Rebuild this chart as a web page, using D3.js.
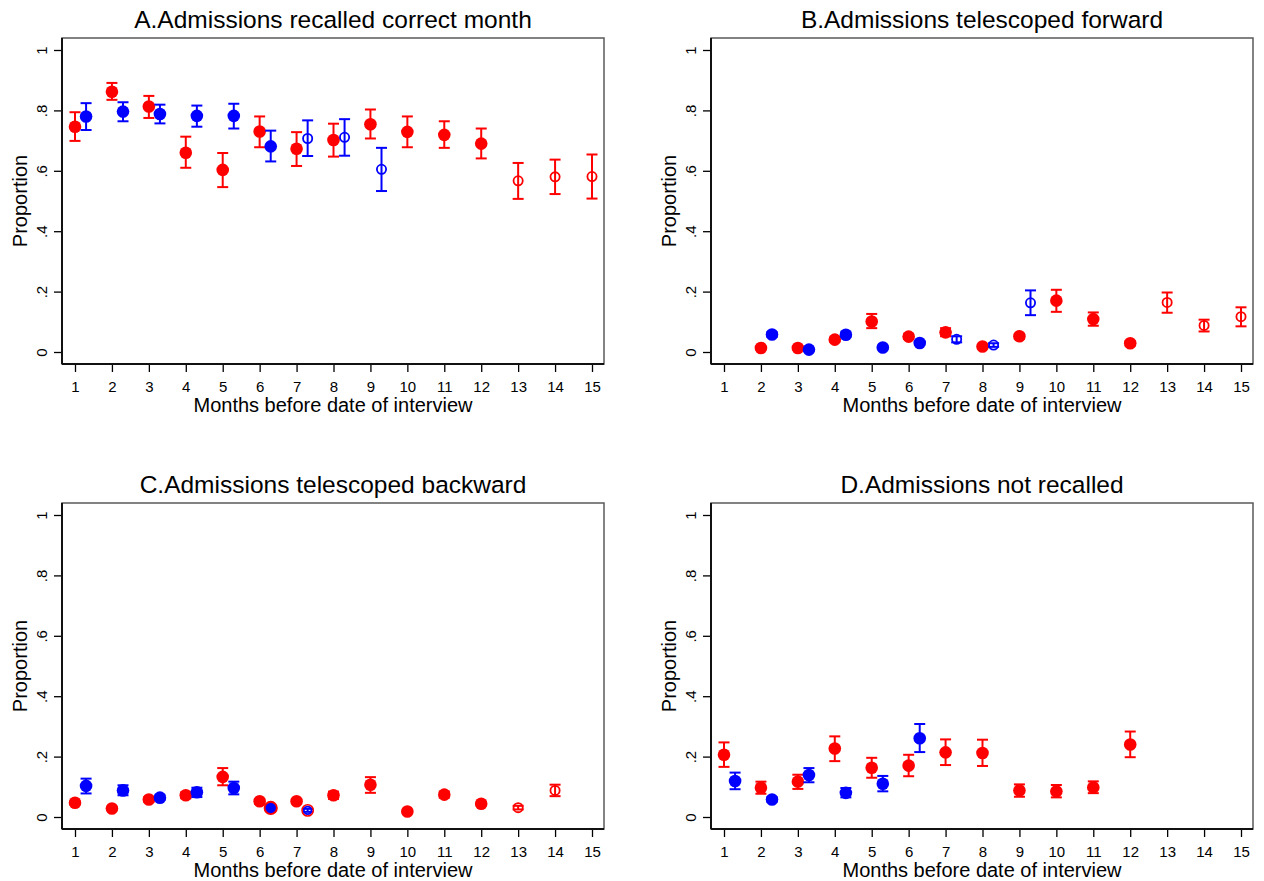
<!DOCTYPE html>
<html><head><meta charset="utf-8">
<script src="https://cdn.jsdelivr.net/npm/d3@7"></script>
<style>
body{margin:0;background:#fff}
svg{display:block}
text{font-family:"Liberation Sans",Arial,Helvetica,sans-serif;fill:#000}
</style>
</head><body>
<svg id="chart" width="1264" height="881"></svg>
<script>
// ---------- data ----------
const monthTicks = [1,2,3,4,5,6,7,8,9,10,11,12,13,14,15];
const yTickValues = [0,0.2,0.4,0.6,0.8,1];
const yTickLabels = ["0",".2",".4",".6",".8","1"];
const panelTitles = ["A.Admissions recalled correct month","B.Admissions telescoped forward","C.Admissions telescoped backward","D.Admissions not recalled"];
const xAxisTitle = "Months before date of interview";
const yAxisTitle = "Proportion";

// Panel A
const aRedX   = [1,2,3,4,5,6,7,8,9,10,11,12,13,14,15];
const aRedEst = [0.746,0.862,0.813,0.660,0.603,0.730,0.673,0.702,0.754,0.729,0.719,0.690,0.567,0.580,0.581];
const aRedLo  = [0.699,0.835,0.775,0.610,0.546,0.678,0.616,0.647,0.707,0.678,0.676,0.641,0.507,0.523,0.508];
const aRedHi  = [0.794,0.891,0.848,0.713,0.659,0.780,0.728,0.756,0.803,0.780,0.764,0.740,0.626,0.637,0.654];
const aRedOpen= [0,0,0,0,0,0,0,0,0,0,0,0,1,1,1];
const aBlueX   = [1.3,2.3,3.3,4.3,5.3,6.3,7.3,8.3,9.3];
const aBlueEst = [0.780,0.796,0.788,0.782,0.782,0.681,0.707,0.711,0.605];
const aBlueLo  = [0.735,0.764,0.757,0.746,0.740,0.631,0.649,0.650,0.533];
const aBlueHi  = [0.824,0.827,0.819,0.816,0.822,0.733,0.767,0.771,0.676];
const aBlueOpen= [0,0,0,0,0,0,1,1,1];

// Panel B
const bRedX   = [2,3,4,5,6,7,8,9,10,11,12,13,14,15];
const bRedEst = [0.013,0.013,0.041,0.101,0.051,0.065,0.018,0.052,0.170,0.109,0.029,0.164,0.088,0.117];
const bRedLo  = [0.008,0.008,0.034,0.079,0.043,0.052,0.013,0.044,0.133,0.087,0.022,0.130,0.068,0.085];
const bRedHi  = [0.018,0.018,0.048,0.126,0.059,0.079,0.023,0.060,0.206,0.131,0.036,0.197,0.107,0.148];
const bRedOpen= [0,0,0,0,0,0,0,0,0,0,0,1,1,1];
const bBlueX   = [2.3,3.3,4.3,5.3,6.3,7.3,8.3,9.3];
const bBlueEst = [0.058,0.008,0.057,0.015,0.030,0.042,0.023,0.163];
const bBlueLo  = [0.050,0.004,0.049,0.010,0.024,0.032,0.017,0.122];
const bBlueHi  = [0.066,0.012,0.065,0.020,0.036,0.052,0.029,0.204];
const bBlueOpen= [0,0,0,0,0,1,1,1];

// Panel C
const cRedX   = [1,2,3,4,5,6,7,8,9,10,11,12,13,14];
const cRedEst = [0.047,0.028,0.058,0.072,0.133,0.052,0.052,0.072,0.107,0.018,0.074,0.044,0.031,0.088];
const cRedLo  = [0.041,0.023,0.050,0.062,0.105,0.044,0.046,0.060,0.080,0.014,0.064,0.038,0.025,0.069];
const cRedHi  = [0.053,0.033,0.066,0.082,0.162,0.060,0.058,0.084,0.132,0.022,0.084,0.050,0.037,0.107];
const cRedOpen= [0,0,0,0,0,0,0,0,0,0,0,0,1,1];
const cBlueX   = [1.3,2.3,3.3,4.3,5.3,6.3,7.3];
const cBlueEst = [0.103,0.088,0.064,0.082,0.096,0.030,0.022];
const cBlueLo  = [0.078,0.072,0.056,0.066,0.075,0.022,0.017];
const cBlueHi  = [0.127,0.105,0.072,0.097,0.117,0.038,0.027];
const cBlueOpen= [0,0,0,0,0,0,1];
const cBlueRing= [0,0,0,0,0,1,1];

// Panel D
const dRedX   = [1,2,3,4,5,6,7,8,9,10,11,12];
const dRedEst = [0.206,0.097,0.117,0.227,0.163,0.170,0.214,0.212,0.088,0.085,0.098,0.240];
const dRedLo  = [0.166,0.077,0.093,0.185,0.130,0.135,0.172,0.169,0.067,0.065,0.079,0.198];
const dRedHi  = [0.247,0.117,0.140,0.267,0.196,0.206,0.257,0.256,0.108,0.106,0.118,0.283];
const dBlueX   = [1.3,2.3,3.3,4.3,5.3,6.3];
const dBlueEst = [0.119,0.058,0.139,0.080,0.110,0.261];
const dBlueLo  = [0.092,0.050,0.115,0.065,0.085,0.215];
const dBlueHi  = [0.147,0.066,0.162,0.096,0.136,0.308];

// ---------- build ----------
const RED = "#ff0000", BLUE = "#0000ff";
function series(xs, est, lo, hi, open, ring) {
  return xs.map((x,i)=>({x, est:est[i], lo:lo[i], hi:hi[i], open: open? !!open[i] : false, ring: ring? !!ring[i] : false}));
}
const panels = [
  {title: panelTitles[0], left: 62,  top: 38,
   red: series(aRedX,aRedEst,aRedLo,aRedHi,aRedOpen), blue: series(aBlueX,aBlueEst,aBlueLo,aBlueHi,aBlueOpen)},
  {title: panelTitles[1], left: 711, top: 38,
   red: series(bRedX,bRedEst,bRedLo,bRedHi,bRedOpen), blue: series(bBlueX,bBlueEst,bBlueLo,bBlueHi,bBlueOpen)},
  {title: panelTitles[2], left: 62,  top: 503,
   red: series(cRedX,cRedEst,cRedLo,cRedHi,cRedOpen), blue: series(cBlueX,cBlueEst,cBlueLo,cBlueHi,cBlueOpen,cBlueRing)},
  {title: panelTitles[3], left: 711, top: 503,
   red: series(dRedX,dRedEst,dRedLo,dRedHi), blue: series(dBlueX,dBlueEst,dBlueLo,dBlueHi)}
];

const W = 542, H = 326;
const FONT = '"Liberation Sans",Arial,sans-serif';
const svg = d3.select("#chart");

panels.forEach(p => {
  const g = svg.append("g").attr("transform", `translate(${p.left},${p.top})`);
  const x = d3.scaleLinear().domain([1,15]).range([13, 530]);
  const y = d3.scaleLinear().domain([0,1]).range([314, 12]);

  // frame
  g.append("rect").attr("x",0).attr("y",0).attr("width",W).attr("height",H)
    .attr("fill","none").attr("stroke","#5a5a5a").attr("stroke-width",1.5);

  // y axis
  const ya = g.append("g").call(d3.axisLeft(y).tickValues(yTickValues).tickSize(8).tickSizeOuter(0)
      .tickFormat((d,i)=>yTickLabels[i]));
  ya.select(".domain").remove();
  ya.selectAll(".tick line").attr("stroke","#000").attr("stroke-width",1.3);
  ya.selectAll(".tick text").attr("x",0).attr("dy","0.35em")
    .attr("transform","translate(-20,0) rotate(-90)")
    .attr("text-anchor","middle").style("font-size","15px").style("font-family",FONT);

  // x axis
  const xa = g.append("g").attr("transform",`translate(0,${H})`)
    .call(d3.axisBottom(x).tickValues(monthTicks).tickSize(8).tickSizeOuter(0).tickPadding(9).tickFormat(d3.format("d")));
  xa.select(".domain").remove();
  xa.selectAll(".tick line").attr("stroke","#000").attr("stroke-width",1.3);
  xa.selectAll(".tick text").style("font-size","15px").style("font-family",FONT);

  // darker left & bottom axis lines
  g.append("line").attr("x1",0).attr("x2",0).attr("y1",0).attr("y2",H).attr("stroke","#111").attr("stroke-width",2);
  g.append("line").attr("x1",0).attr("x2",W).attr("y1",H).attr("y2",H).attr("stroke","#111").attr("stroke-width",2);

  // titles
  g.append("text").attr("x",W/2).attr("y",-10).attr("text-anchor","middle")
    .style("font-size","24.5px").text(p.title);
  g.append("text").attr("x",W/2).attr("y",H+48).attr("text-anchor","middle")
    .style("font-size","20px").text(xAxisTitle);
  g.append("text").attr("transform",`translate(-35,${H/2}) rotate(-90)`).attr("text-anchor","middle")
    .style("font-size","20px").text(yAxisTitle);

  // series
  [[p.red, RED],[p.blue, BLUE]].forEach(([data,col]) => {
    const sg = g.append("g");
    const pt = sg.selectAll("g.pt").data(data).join("g").attr("class","pt");
    pt.append("line").attr("x1",d=>x(d.x)).attr("x2",d=>x(d.x)).attr("y1",d=>y(d.lo)).attr("y2",d=>y(d.hi))
      .attr("stroke",col).attr("stroke-width",2);
    pt.append("line").attr("x1",d=>x(d.x)-5.5).attr("x2",d=>x(d.x)+5.5).attr("y1",d=>y(d.lo)).attr("y2",d=>y(d.lo))
      .attr("stroke",col).attr("stroke-width",2);
    pt.append("line").attr("x1",d=>x(d.x)-5.5).attr("x2",d=>x(d.x)+5.5).attr("y1",d=>y(d.hi)).attr("y2",d=>y(d.hi))
      .attr("stroke",col).attr("stroke-width",2);
    pt.filter(d=>d.ring).append("circle").attr("cx",d=>x(d.x)).attr("cy",d=>y(d.est))
      .attr("r",d=>d.open?5.6:6.3).attr("fill",d=>d.open?"none":RED).attr("stroke",RED).attr("stroke-width",1.6);
    pt.append("circle").attr("cx",d=>x(d.x)).attr("cy",d=>y(d.est))
      .attr("r",d=>d.open?(d.ring?3.8:4.6):(d.ring?5.2:6.3))
      .attr("fill",d=>d.open?"none":col)
      .attr("stroke",col).attr("stroke-width",d=>d.open?1.8:0);
  });
});
</script>
</body></html>
